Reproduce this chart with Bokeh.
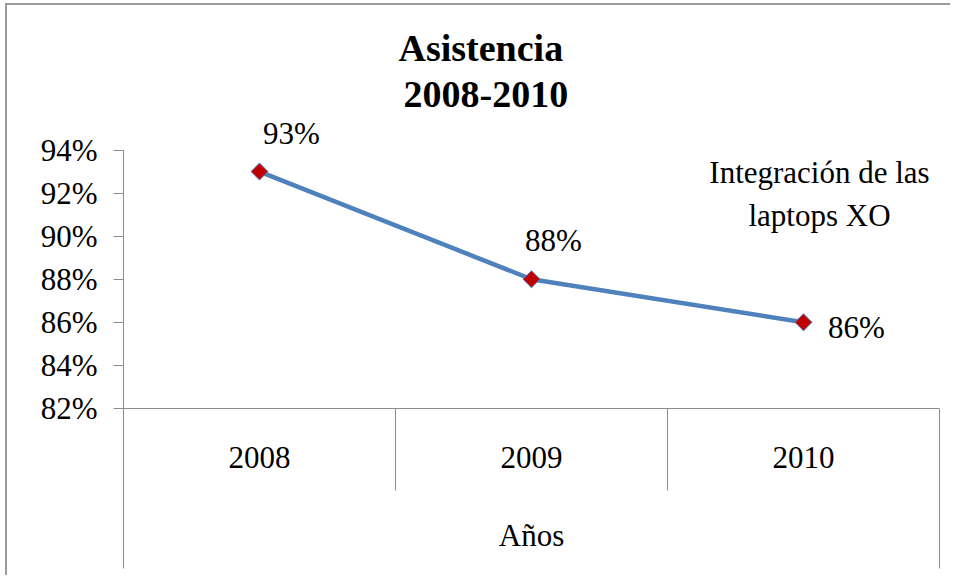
import math
from bokeh.plotting import figure
from bokeh.models import (ColumnDataSource, FactorRange, Range1d, FixedTicker,
                          NumeralTickFormatter, Span, LinearAxis, Title)
from bokeh.transform import dodge
from bokeh.core.properties import value
from bokeh.embed import file_html
from bokeh.resources import INLINE

# ---- data ----
years = ["2008", "2009", "2010"]
asistencia = [0.93, 0.88, 0.86]
point_labels = ["93%", "88%", "86%"]
y_ticks = [0.82, 0.84, 0.86, 0.88, 0.90, 0.92, 0.94]
x_title = "Años"
title_lines = ["Asistencia", "2008-2010"]
note = "Integración de las\nlaptops XO"

# ---- layout (pixels, canvas coordinates) ----
W, H = 945, 572
LEFT, TOP = 116, 107
FRAME_RIGHT = 932
Y_TOP_PX, Y_BASE_PX = 144.5, 403.0   # canvas y of top tick and of base tick
ppu = (Y_BASE_PX - Y_TOP_PX) / (y_ticks[-1] - y_ticks[0])
y_end = y_ticks[-1] + (Y_TOP_PX - TOP) / ppu
y_start = y_ticks[0] - (H - Y_BASE_PX) / ppu


def below(px):
    return y_ticks[0] - px / ppu


FONT = "Liberation Serif"
GRAY = "#8c8c8c"

p = figure(width=W, height=H,
           x_range=FactorRange(*years, range_padding=0),
           y_range=Range1d(y_start, y_end),
           x_axis_location=None,
           output_backend="svg", toolbar_location=None,
           min_border_left=LEFT, min_border_right=W - FRAME_RIGHT,
           min_border_top=TOP, min_border_bottom=0,
           background_fill_color="white", border_fill_color="white",
           outline_line_color=None)
p.styles = {"margin-left": "5px", "margin-top": "3px",
            "border-left": "2px solid #9a9a9a", "border-top": "2px solid #9a9a9a"}
p.grid.visible = False

# titles (the added Title sits closer to the frame)
p.title.text = title_lines[0]
p.title.align = "left"
p.title.offset = 275
p.title.standoff = 9
p.title.text_font = FONT
p.title.text_font_size = "38px"
p.title.text_font_style = "bold"
p.title.text_color = "black"
p.add_layout(Title(text=title_lines[1], align="left", offset=280, standoff=12,
                   text_font=FONT, text_font_size="38px", text_font_style="bold",
                   text_color="black"), "above")

# y axis
ax = p.yaxis[0]
ax.ticker = FixedTicker(ticks=y_ticks)
ax.formatter = NumeralTickFormatter(format="0%")
ax.bounds = (below(160), y_ticks[-1])
ax.axis_line_color = GRAY
ax.major_tick_line_color = GRAY
ax.major_tick_out = 10
ax.major_tick_in = 0
ax.minor_tick_line_color = None
ax.major_label_text_font = FONT
ax.major_label_text_font_size = "31px"
ax.major_label_text_color = "black"
ax.major_label_standoff = 16

# right edge of the category table
rax = LinearAxis(ticker=FixedTicker(ticks=[]), bounds=(below(160), y_ticks[0]),
                 axis_line_color=GRAY, major_tick_line_color=None,
                 minor_tick_line_color=None, major_label_text_font_size="0px",
                 major_tick_out=0, major_label_standoff=0)
p.add_layout(rax, "right")

# baseline at 82%
p.add_layout(Span(location=y_ticks[0], dimension="width", line_color=GRAY, line_width=1))

# category separators
sep = ColumnDataSource(dict(year=years[:-1]))
p.segment(x0=dodge("year", 0.5, range=p.x_range), y0=y_ticks[0],
          x1=dodge("year", 0.5, range=p.x_range), y1=below(82),
          source=sep, line_color=GRAY, line_width=1)

# year labels and axis title
cats = ColumnDataSource(dict(year=years))
p.text(x="year", y=y_ticks[0], text="year", y_offset=49, source=cats,
       text_align="center", text_baseline="middle", text_font=value(FONT),
       text_font_size="31px", text_color="black")
p.text(x=[years[1]], y=[y_ticks[0]], text=[x_title], y_offset=127,
       text_align="center", text_baseline="middle", text_font=value(FONT),
       text_font_size="31px", text_color="black")

# series
src = ColumnDataSource(dict(year=years, v=asistencia, lab=point_labels,
                            dx=[32, 22, 53], dy=[-38, -39, 5]))
p.line("year", "v", source=src, line_color="#4F81BD", line_width=4.5)
p.scatter("year", "v", source=src, marker="square", angle=math.pi / 4, size=12,
          fill_color="#C00000", line_color="#4F81BD", line_width=1)
p.text("year", "v", text="lab", x_offset="dx", y_offset="dy", source=src,
       text_align="center", text_baseline="middle", text_font=value(FONT),
       text_font_size="31px", text_color="black")

# note
p.text(x=[years[-1]], y=[y_ticks[-1]], text=[note], x_offset=16, y_offset=44,
       text_align="center", text_baseline="middle", text_line_height=1.24,
       text_font=value(FONT), text_font_size="31px", text_color="black")

open("out.html", "w").write(file_html(p, INLINE))
